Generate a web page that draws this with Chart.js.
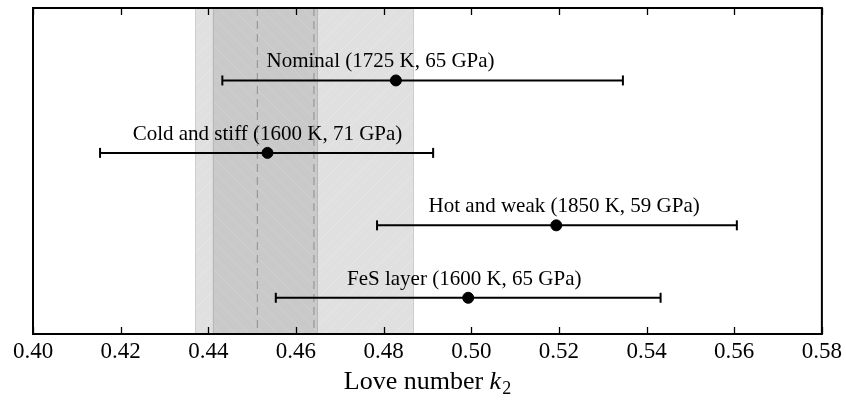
<!DOCTYPE html>
<html lang="en">
<head>
  <meta charset="UTF-8" />
  <title>Love number k2</title>
  <style>
    body { margin: 0; background: #fff; }
    #wrap { width: 846px; height: 400px; }
  </style>
  <script src="https://cdn.jsdelivr.net/npm/chart.js"></script>
</head>
<body>
  <div id="wrap"><canvas id="loveChart" width="846" height="400"></canvas></div>

  <script>
    // model runs, top to bottom
    const models = ["Nominal (1725 K, 65 GPa)", "Cold and stiff (1600 K, 71 GPa)", "Hot and weak (1850 K, 59 GPa)", "FeS layer (1600 K, 65 GPa)"];
    const rowY = [4, 3, 2, 1];
    const k2 = [0.4828, 0.4535, 0.5194, 0.4993];
    const k2Low = [0.4432, 0.4153, 0.4785, 0.4554];
    const k2High = [0.5346, 0.4913, 0.5606, 0.5432];
    const labelX = [0.4793, 0.4535, 0.5212, 0.4984];

    // measured ranges (shaded bands and dashed lines)
    const outerBand = [0.4370, 0.4869];
    const innerBand = [0.4410, 0.4650];
    const dashedLines = [0.4512, 0.4641];

    const xMin = 0.40, xMax = 0.58, xStep = 0.02;
    const serif = "'Liberation Serif', 'DejaVu Serif', serif";

    function hatch(bg, fg, dir) {
      const c = document.createElement("canvas");
      c.width = 14; c.height = 14;
      const g = c.getContext("2d");
      g.fillStyle = bg;
      g.fillRect(0, 0, 14, 14);
      g.strokeStyle = fg;
      g.lineWidth = 1;
      g.beginPath();
      if (dir > 0) {
        g.moveTo(0, 14); g.lineTo(14, 0);
        g.moveTo(-7, 7); g.lineTo(7, -7);
        g.moveTo(7, 21); g.lineTo(21, 7);
      } else {
        g.moveTo(0, 0); g.lineTo(14, 14);
        g.moveTo(-7, 7); g.lineTo(7, 21);
        g.moveTo(7, -7); g.lineTo(21, 7);
      }
      g.stroke();
      return g.createPattern(c, "repeat");
    }

    const bandsPlugin = {
      id: "bands",
      beforeDatasetsDraw(chart) {
        const { ctx, chartArea: a, scales: { x } } = chart;
        ctx.save();
        const drawBand = (r, fill, edge) => {
          const x0 = x.getPixelForValue(r[0]), x1 = x.getPixelForValue(r[1]);
          ctx.fillStyle = fill;
          ctx.fillRect(x0, a.top, x1 - x0, a.bottom - a.top);
          ctx.strokeStyle = edge;
          ctx.lineWidth = 1;
          ctx.beginPath();
          ctx.moveTo(Math.round(x0) + 0.5, a.top); ctx.lineTo(Math.round(x0) + 0.5, a.bottom);
          ctx.moveTo(Math.round(x1) - 0.5, a.top); ctx.lineTo(Math.round(x1) - 0.5, a.bottom);
          ctx.stroke();
        };
        drawBand(outerBand, hatch("#e0e0e0", "#e6e6e6", 1), "#cdcdcd");
        drawBand(innerBand, hatch("#c9c9c9", "#d0d0d0", -1), "#b8b8b8");
        ctx.strokeStyle = "#999999";
        ctx.lineWidth = 1.2;
        ctx.setLineDash([8, 5]);
        dashedLines.forEach(v => {
          const px = x.getPixelForValue(v);
          ctx.beginPath();
          ctx.moveTo(px, a.top);
          ctx.lineTo(px, a.bottom);
          ctx.stroke();
        });
        ctx.restore();
      },
      afterDatasetsDraw(chart) {
        const { ctx, chartArea: a, scales: { x, y } } = chart;
        ctx.save();
        // labels above each point
        ctx.fillStyle = "#000";
        ctx.font = "21px " + serif;
        ctx.textAlign = "center";
        ctx.textBaseline = "alphabetic";
        models.forEach((m, i) => {
          ctx.fillText(m, x.getPixelForValue(labelX[i]), y.getPixelForValue(rowY[i]) - 13);
        });
        // frame and inward ticks
        ctx.strokeStyle = "#000";
        ctx.lineWidth = 1.3;
        x.ticks.forEach(t => {
          const px = Math.round(x.getPixelForValue(t.value)) + 0.5;
          ctx.beginPath();
          ctx.moveTo(px, a.bottom); ctx.lineTo(px, a.bottom - 7);
          ctx.moveTo(px, a.top); ctx.lineTo(px, a.top + 7);
          ctx.stroke();
        });
        ctx.lineWidth = 2;
        ctx.strokeRect(a.left, a.top, a.right - a.left, a.bottom - a.top);
        // axis title with italic k and subscript 2
        const main = "Love number ";
        ctx.textAlign = "left";
        ctx.font = "26px " + serif;
        const w1 = ctx.measureText(main).width;
        ctx.font = "italic 26px " + serif;
        const w2 = ctx.measureText("k").width;
        ctx.font = "18px " + serif;
        const w3 = ctx.measureText("2").width;
        let tx = (a.left + a.right) / 2 - (w1 + w2 + w3 + 1) / 2;
        const base = 389;
        ctx.font = "26px " + serif;
        ctx.fillText(main, tx, base);
        tx += w1;
        ctx.font = "italic 26px " + serif;
        ctx.fillText("k", tx, base);
        tx += w2 + 1;
        ctx.font = "18px " + serif;
        ctx.fillText("2", tx, base + 5);
        ctx.restore();
      }
    };

    const errorSets = models.map((m, i) => ({
      type: "line",
      label: m,
      data: [{ x: k2Low[i], y: rowY[i] }, { x: k2High[i], y: rowY[i] }],
      borderColor: "#000",
      borderWidth: 2,
      pointStyle: "line",
      rotation: 90,
      pointRadius: 5,
      pointBorderWidth: 2,
      pointBorderColor: "#000",
      fill: false
    }));

    new Chart(document.getElementById("loveChart"), {
      type: "scatter",
      data: {
        datasets: [
          ...errorSets,
          {
            label: "k2",
            data: k2.map((v, i) => ({ x: v, y: rowY[i] })),
            backgroundColor: "#000",
            borderColor: "#000",
            pointRadius: 5.5,
            pointHoverRadius: 5.5
          }
        ]
      },
      options: {
        responsive: false,
        animation: false,
        events: [],
        layout: { padding: { left: 33, right: 22, top: 8, bottom: 0 } },
        plugins: { legend: { display: false }, tooltip: { enabled: false } },
        scales: {
          x: {
            type: "linear",
            min: xMin,
            max: xMax,
            afterFit(scale) { scale.height = 66; },
            grid: { display: false, drawTicks: false },
            border: { display: false },
            ticks: {
              stepSize: xStep,
              padding: 4,
              color: "#000",
              font: { family: serif, size: 23 },
              callback: v => v.toFixed(2)
            }
          },
          y: {
            type: "linear",
            display: false,
            min: 0.5,
            max: 5
          }
        }
      },
      plugins: [bandsPlugin]
    });
  </script>
</body>
</html>
